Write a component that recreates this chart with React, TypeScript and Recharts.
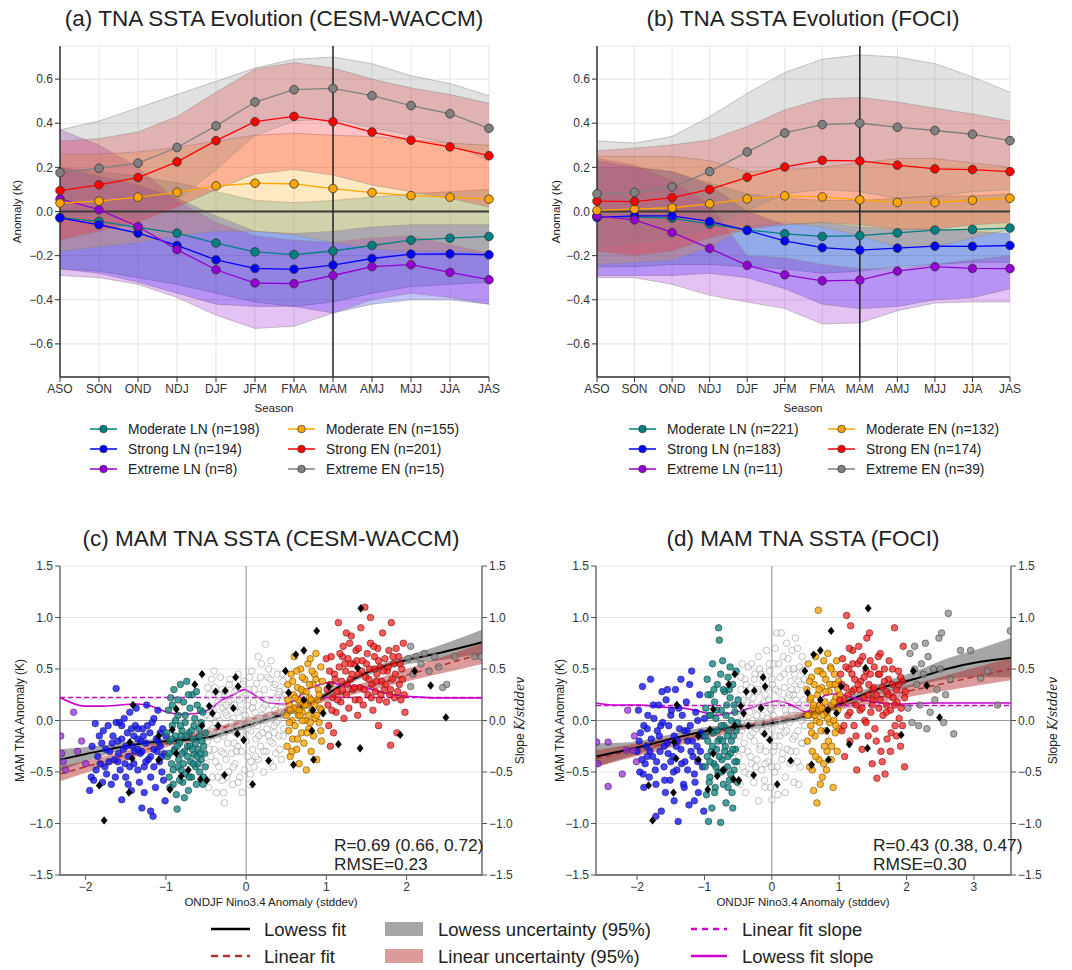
import React from "react";
import { ComposedChart, Line, Area, Scatter, XAxis, YAxis, CartesianGrid, ReferenceLine } from "recharts";

const FONT = "'Liberation Sans', Arial, Helvetica, sans-serif";

// ---------- Top panels: seasonal evolution ----------
const seasons = ["ASO", "SON", "OND", "NDJ", "DJF", "JFM", "FMA", "MAM", "AMJ", "MJJ", "JJA", "JAS"];
const yTicksTop = [-0.6, -0.4, -0.2, 0, 0.2, 0.4, 0.6];

const COL_MODLN = "#008080";
const COL_STRLN = "#0000ff";
const COL_EXTLN = "#9400d3";
const COL_MODEN = "#ffa500";
const COL_STREN = "#ff0000";
const COL_EXTEN = "#808080";

// (a) CESM-WACCM
const aModLN = [-0.027, -0.045, -0.072, -0.098, -0.143, -0.183, -0.195, -0.179, -0.154, -0.130, -0.121, -0.113];
const aModLNLo = [-0.26, -0.27, -0.30, -0.33, -0.37, -0.41, -0.43, -0.41, -0.37, -0.34, -0.33, -0.32];
const aModLNHi = [0.20, 0.18, 0.16, 0.13, 0.09, 0.05, 0.04, 0.05, 0.065, 0.08, 0.09, 0.10];
const aStrLN = [-0.029, -0.060, -0.098, -0.154, -0.219, -0.258, -0.262, -0.243, -0.213, -0.193, -0.192, -0.196];
const aStrLNLo = [-0.26, -0.28, -0.32, -0.37, -0.42, -0.43, -0.43, -0.46, -0.42, -0.40, -0.40, -0.42];
const aStrLNHi = [0.20, 0.16, 0.12, 0.06, -0.02, -0.09, -0.10, -0.09, -0.07, -0.06, -0.06, -0.06];
const aExtLN = [0.057, 0.008, -0.068, -0.173, -0.264, -0.324, -0.327, -0.290, -0.250, -0.241, -0.276, -0.309];
const aExtLNLo = [-0.29, -0.30, -0.33, -0.39, -0.47, -0.53, -0.52, -0.46, -0.40, -0.37, -0.39, -0.42];
const aExtLNHi = [0.37, 0.30, 0.20, 0.05, -0.05, -0.11, -0.13, -0.14, -0.12, -0.11, -0.15, -0.19];
const aModEN = [0.038, 0.047, 0.065, 0.087, 0.116, 0.128, 0.125, 0.104, 0.086, 0.072, 0.065, 0.056];
const aModENLo = [-0.18, -0.16, -0.14, -0.11, -0.09, -0.09, -0.105, -0.14, -0.17, -0.18, -0.18, -0.19];
const aModENHi = [0.26, 0.26, 0.27, 0.29, 0.32, 0.345, 0.355, 0.345, 0.34, 0.325, 0.31, 0.30];
const aStrEN = [0.095, 0.121, 0.154, 0.225, 0.321, 0.407, 0.431, 0.407, 0.360, 0.323, 0.293, 0.253];
const aStrENLo = [-0.13, -0.09, -0.05, 0.02, 0.10, 0.17, 0.19, 0.165, 0.12, 0.09, 0.06, 0.02];
const aStrENHi = [0.32, 0.33, 0.36, 0.43, 0.54, 0.645, 0.675, 0.65, 0.60, 0.56, 0.53, 0.49];
const aExtEN = [0.176, 0.196, 0.219, 0.290, 0.388, 0.496, 0.552, 0.558, 0.525, 0.480, 0.443, 0.377];
const aExtENLo = [-0.02, -0.02, -0.03, 0.05, 0.19, 0.345, 0.41, 0.42, 0.38, 0.345, 0.31, 0.23];
const aExtENHi = [0.37, 0.41, 0.47, 0.53, 0.59, 0.65, 0.69, 0.70, 0.67, 0.615, 0.58, 0.525];

// (b) FOCI
const bModLN = [-0.023, -0.024, -0.030, -0.057, -0.083, -0.101, -0.113, -0.109, -0.097, -0.084, -0.081, -0.075];
const bModLNLo = [-0.25, -0.25, -0.24, -0.24, -0.25, -0.26, -0.28, -0.27, -0.25, -0.24, -0.23, -0.23];
const bModLNHi = [0.20, 0.20, 0.18, 0.13, 0.08, 0.06, 0.05, 0.05, 0.06, 0.07, 0.07, 0.08];
const bStrLN = [-0.027, -0.020, -0.020, -0.045, -0.086, -0.133, -0.164, -0.175, -0.166, -0.157, -0.158, -0.154];
const bStrLNLo = [-0.29, -0.29, -0.29, -0.28, -0.30, -0.35, -0.42, -0.44, -0.43, -0.40, -0.39, -0.35];
const bStrLNHi = [0.23, 0.20, 0.18, 0.12, 0.0, -0.06, -0.05, -0.07, -0.08, -0.08, -0.09, -0.10];
const bExtLN = [-0.020, -0.038, -0.095, -0.167, -0.244, -0.287, -0.314, -0.311, -0.270, -0.250, -0.258, -0.259];
const bExtLNLo = [-0.30, -0.30, -0.33, -0.38, -0.41, -0.44, -0.51, -0.505, -0.45, -0.415, -0.41, -0.41];
const bExtLNHi = [0.24, 0.21, 0.14, 0.03, -0.20, -0.21, -0.24, -0.26, -0.26, -0.24, -0.22, -0.20];
const bModEN = [0.005, 0.011, 0.017, 0.035, 0.057, 0.071, 0.066, 0.053, 0.041, 0.041, 0.051, 0.060];
const bModENLo = [-0.24, -0.23, -0.22, -0.16, -0.07, -0.05, -0.07, -0.11, -0.16, -0.16, -0.12, -0.08];
const bModENHi = [0.25, 0.25, 0.25, 0.23, 0.18, 0.19, 0.20, 0.22, 0.24, 0.24, 0.22, 0.20];
const bStrEN = [0.047, 0.045, 0.063, 0.100, 0.155, 0.202, 0.232, 0.229, 0.210, 0.193, 0.190, 0.181];
const bStrENLo = [-0.18, -0.20, -0.18, -0.12, -0.08, -0.06, -0.05, -0.06, -0.08, -0.08, -0.06, -0.05];
const bStrENHi = [0.275, 0.287, 0.302, 0.324, 0.385, 0.46, 0.51, 0.517, 0.496, 0.468, 0.442, 0.41];
const bExtEN = [0.080, 0.087, 0.112, 0.181, 0.270, 0.356, 0.394, 0.400, 0.382, 0.367, 0.350, 0.321];
const bExtENLo = [-0.16, -0.14, -0.12, -0.07, 0.005, 0.08, 0.10, 0.09, 0.06, 0.07, 0.09, 0.10];
const bExtENHi = [0.32, 0.31, 0.34, 0.43, 0.535, 0.63, 0.69, 0.71, 0.70, 0.67, 0.61, 0.54];

const legendNamesA = ["Moderate LN (n=198)", "Strong LN (n=194)", "Extreme LN (n=8)", "Moderate EN (n=155)", "Strong EN (n=201)", "Extreme EN (n=15)"];
const legendNamesB = ["Moderate LN (n=221)", "Strong LN (n=183)", "Extreme LN (n=11)", "Moderate EN (n=132)", "Strong EN (n=174)", "Extreme EN (n=39)"];

type Ser = { color: string; mean: number[]; lo: number[]; hi: number[] };
const seriesA: Ser[] = [
  { color: COL_MODLN, mean: aModLN, lo: aModLNLo, hi: aModLNHi },
  { color: COL_STRLN, mean: aStrLN, lo: aStrLNLo, hi: aStrLNHi },
  { color: COL_EXTLN, mean: aExtLN, lo: aExtLNLo, hi: aExtLNHi },
  { color: COL_MODEN, mean: aModEN, lo: aModENLo, hi: aModENHi },
  { color: COL_STREN, mean: aStrEN, lo: aStrENLo, hi: aStrENHi },
  { color: COL_EXTEN, mean: aExtEN, lo: aExtENLo, hi: aExtENHi },
];
const seriesB: Ser[] = [
  { color: COL_MODLN, mean: bModLN, lo: bModLNLo, hi: bModLNHi },
  { color: COL_STRLN, mean: bStrLN, lo: bStrLNLo, hi: bStrLNHi },
  { color: COL_EXTLN, mean: bExtLN, lo: bExtLNLo, hi: bExtLNHi },
  { color: COL_MODEN, mean: bModEN, lo: bModENLo, hi: bModENHi },
  { color: COL_STREN, mean: bStrEN, lo: bStrENLo, hi: bStrENHi },
  { color: COL_EXTEN, mean: bExtEN, lo: bExtENLo, hi: bExtENHi },
];

// ---------- Bottom panels: scatter ----------
const yTicksBot = [-1.5, -1, -0.5, 0, 0.5, 1, 1.5];
const xTicksC = [-2, -1, 0, 1, 2];
const xTicksD = [-2, -1, 0, 1, 2, 3];

const obsDiamonds = [
  [-1.77, -0.97], [-1.83, -0.63], [-1.46, -0.70], [-1.45, -0.21], [-1.42, -0.37], [-1.41, 0.15], [-1.09, -0.15], [-1.09, -0.38],
  [-0.95, -0.67], [-0.92, -0.09], [-0.87, 0.11], [-0.87, -0.32], [-0.81, -0.54], [-0.72, -0.48], [-0.64, 0.35], [-0.55, 0.45],
  [-0.55, -0.05], [-0.57, -0.57], [-0.49, -0.58], [-0.46, 0.14], [-0.42, 0.07], [-0.38, 0.28], [-0.35, -0.05], [-0.27, -0.53],
  [-0.26, 0.29], [-0.16, 0.12], [-0.13, 0.42], [-0.11, -0.13], [-0.10, 0.33], [-0.03, -0.19], [0.08, -0.62], [0.28, -0.39],
  [0.49, 0.48], [0.53, 0.27], [0.59, -0.43], [0.62, 0.64], [0.72, 0.68], [0.72, 0.20], [0.83, 0.10], [0.82, -0.10], [0.84, -0.38],
  [0.88, 0.87], [0.96, 0.07], [1.03, 0.33], [1.15, -0.23], [1.39, 0.51], [1.42, -0.27], [1.43, 1.09], [1.92, -0.14], [2.10, 0.48],
  [2.30, 0.34], [2.49, 0.03],
];

// (c) CESM-WACCM
const cBlue = [
  [-1.95, -0.68], [-1.93, -0.55], [-1.90, -0.58], [-1.88, -0.03], [-1.85, -0.35], [-1.82, -0.42], [-1.80, -0.22], [-1.78, -0.10],
  [-1.76, -0.45], [-1.74, -0.52], [-1.72, -0.05], [-1.70, -0.30], [-1.68, -0.62], [-1.66, -0.15], [-1.64, -0.38], [-1.62, 0.31],
  [-1.60, -0.20], [-1.58, -0.02], [-1.57, -0.48], [-1.55, -0.77], [-1.53, -0.28], [-1.52, 0.02], [-1.50, -0.55], [-1.48, -0.12],
  [-1.47, -0.35], [-1.45, 0.08], [-1.43, -0.68], [-1.42, -0.25], [-1.40, -0.42], [-1.38, -0.05], [-1.37, 0.12], [-1.35, -0.18],
  [-1.33, -0.60], [-1.32, -0.32], [-1.30, -0.85], [-1.29, -0.08], [-1.27, -0.45], [-1.25, -0.22], [-1.24, 0.15], [-1.22, -0.38],
  [-1.20, -0.12], [-1.19, -0.55], [-1.17, -0.02], [-1.16, -0.93], [-1.15, -0.28], [-1.13, -0.65], [-1.12, -0.18], [-1.10, 0.10],
  [-1.08, -0.40], [-1.07, -0.25], [-1.05, -0.50], [-1.04, -0.08], [-1.02, -0.32], [-1.01, -0.78], [-1.00, -0.15], [-1.19, -0.88],
  [-1.62, -0.02], [-1.55, -0.05], [-1.35, -0.08], [-1.28, -0.15], [-1.40, -0.15], [-1.10, -0.20], [-1.30, -0.30],
  [-1.92, -0.25], [-1.87, -0.48], [-1.83, -0.15], [-1.79, -0.60], [-1.75, -0.28], [-1.71, -0.40], [-1.67, -0.22], [-1.63, -0.55],
  [-1.59, -0.32], [-1.55, -0.18], [-1.51, -0.42], [-1.47, -0.62], [-1.43, -0.08], [-1.39, -0.30], [-1.35, -0.48], [-1.31, -0.20],
  [-1.27, -0.70], [-1.23, -0.05], [-1.19, -0.35], [-1.15, -0.45], [-1.11, -0.30], [-1.07, -0.12], [-1.03, -0.58], [-1.50, -0.25],
  [-1.25, -0.40], [-1.45, -0.45], [-1.15, 0.02], [-1.60, -0.40], [-1.05, -0.35], [-1.35, -0.28],
];
const cTeal = [
  [-0.98, -0.35], [-0.97, 0.10], [-0.96, -0.55], [-0.95, -0.20], [-0.94, 0.22], [-0.93, -0.42], [-0.92, -0.05], [-0.91, -0.62],
  [-0.90, 0.30], [-0.89, -0.28], [-0.88, -0.15], [-0.87, -0.72], [-0.86, -0.86], [-0.85, 0.05], [-0.84, -0.38], [-0.83, -0.22],
  [-0.82, 0.35], [-0.81, -0.48], [-0.80, -0.10], [-0.79, -0.60], [-0.78, 0.18], [-0.77, -0.30], [-0.76, -0.02], [-0.75, -0.52],
  [-0.74, 0.38], [-0.73, -0.25], [-0.72, -0.68], [-0.71, -0.12], [-0.70, 0.12], [-0.69, -0.40], [-0.68, -0.55], [-0.67, 0.25],
  [-0.66, -0.18], [-0.65, -0.33], [-0.64, 0.02], [-0.63, -0.45], [-0.62, -0.62], [-0.61, 0.15], [-0.60, -0.28], [-0.59, -0.08],
  [-0.58, -0.50], [-0.57, 0.10], [-0.56, -0.38], [-0.55, -0.20], [-0.54, 0.08], [-0.53, -0.55], [-0.52, -0.32], [-0.51, -0.12],
  [-0.90, -0.30], [-0.80, -0.32], [-0.70, -0.25], [-0.60, -0.42], [-0.75, -0.15], [-0.65, -0.05], [-0.85, -0.45],
  [-0.99, -0.12], [-0.96, -0.32], [-0.93, -0.18], [-0.91, -0.48], [-0.88, 0.00], [-0.86, -0.25], [-0.83, -0.58], [-0.81, -0.15],
  [-0.78, -0.42], [-0.76, 0.05], [-0.73, -0.35], [-0.71, -0.55], [-0.68, -0.10], [-0.66, -0.42], [-0.63, -0.22], [-0.61, -0.35],
  [-0.58, -0.15], [-0.56, -0.02], [-0.53, -0.25], [-0.51, -0.45], [-0.95, -0.65], [-0.85, 0.20], [-0.77, -0.75], [-0.67, -0.28],
  [-0.57, -0.32], [-0.62, 0.28], [-0.72, 0.25], [-0.82, -0.05], [-0.92, 0.15], [-0.54, -0.62],
];
const cWhite = [
  [-0.50, -0.42], [-0.49, 0.05], [-0.48, -0.20], [-0.47, -0.65], [-0.46, 0.25], [-0.45, -0.10], [-0.44, -0.35], [-0.43, 0.40],
  [-0.42, -0.55], [-0.41, 0.10], [-0.40, -0.28], [-0.39, 0.32], [-0.38, -0.02], [-0.37, -0.70], [-0.36, -0.18], [-0.35, 0.18],
  [-0.34, -0.45], [-0.33, 0.00], [-0.32, 0.42], [-0.31, -0.30], [-0.30, -0.58], [-0.29, 0.12], [-0.28, -0.15], [-0.27, -0.80],
  [-0.26, 0.28], [-0.25, -0.38], [-0.24, 0.05], [-0.23, -0.22], [-0.22, -0.50], [-0.21, 0.35], [-0.20, -0.08], [-0.19, 0.20],
  [-0.18, -0.32], [-0.17, -0.62], [-0.16, 0.02], [-0.15, 0.15], [-0.14, -0.42], [-0.13, -0.12], [-0.12, 0.30], [-0.11, -0.25],
  [-0.10, 0.45], [-0.09, -0.05], [-0.08, -0.55], [-0.07, 0.10], [-0.06, -0.30], [-0.05, 0.22], [-0.04, -0.15], [-0.03, 0.38],
  [-0.02, -0.48], [-0.01, 0.05], [0.00, -0.20], [0.01, 0.15], [0.02, -0.35], [0.03, 0.30], [0.04, -0.62], [0.05, 0.00],
  [0.06, -0.10], [0.07, 0.48], [0.08, -0.28], [0.09, 0.18], [0.10, -0.45], [0.11, 0.08], [0.12, -0.18], [0.13, 0.36],
  [0.14, -0.05], [0.15, -0.38], [0.16, 0.25], [0.17, 0.02], [0.18, -0.25], [0.19, 0.55], [0.20, -0.12], [0.21, 0.12],
  [0.22, -0.50], [0.23, 0.30], [0.24, 0.00], [0.25, -0.30], [0.26, 0.20], [0.27, 0.42], [0.28, -0.15], [0.29, 0.05],
  [0.30, -0.40], [0.31, 0.58], [0.32, 0.15], [0.33, -0.22], [0.34, 0.32], [0.35, -0.05], [0.36, 0.10], [0.37, -0.32],
  [0.38, 0.22], [0.39, 0.45], [0.40, 0.00], [0.41, -0.15], [0.42, 0.28], [0.43, 0.08], [0.44, -0.38], [0.45, 0.18],
  [0.46, 0.38], [0.47, -0.08], [0.48, 0.05], [0.49, 0.25], [0.24, 0.74], [-0.28, -0.70], [-0.05, -0.70],
  [-0.48, 0.32], [-0.46, -0.28], [-0.44, 0.12], [-0.42, -0.08], [-0.40, 0.48], [-0.38, -0.40], [-0.36, 0.05], [-0.34, 0.25],
  [-0.32, -0.12], [-0.30, 0.30], [-0.28, -0.32], [-0.26, 0.08], [-0.24, -0.55], [-0.22, 0.18], [-0.20, 0.40], [-0.18, -0.02],
  [-0.16, -0.45], [-0.14, 0.28], [-0.12, -0.30], [-0.10, 0.08], [-0.08, 0.20], [-0.06, -0.12], [-0.04, 0.35], [-0.02, 0.00],
  [0.00, 0.25], [0.02, -0.08], [0.04, 0.42], [0.06, -0.40], [0.08, 0.12], [0.10, 0.30], [0.12, -0.35], [0.14, 0.02],
  [0.16, -0.15], [0.18, 0.42], [0.20, 0.05], [0.22, -0.30], [0.24, 0.15], [0.26, -0.08], [0.28, 0.50], [0.30, -0.20],
  [0.32, 0.02], [0.34, -0.45], [0.36, 0.35], [0.38, -0.02], [0.40, 0.25], [0.42, -0.28], [0.44, 0.12], [0.46, -0.15],
  [0.48, 0.30], [0.15, 0.62], [-0.10, -0.60], [0.05, -0.52], [-0.35, -0.55], [0.30, 0.40], [-0.45, 0.02], [0.10, -0.02],
  [-0.15, -0.22], [0.35, -0.12], [-0.25, 0.15], [0.45, 0.45],
];
const cOrange = [
  [0.50, 0.05], [0.51, -0.25], [0.52, 0.35], [0.53, -0.10], [0.54, 0.15], [0.55, -0.35], [0.56, 0.45], [0.57, 0.00],
  [0.58, -0.18], [0.59, 0.25], [0.60, 0.62], [0.61, -0.05], [0.62, 0.10], [0.63, -0.28], [0.64, 0.32], [0.65, 0.05],
  [0.66, -0.42], [0.67, 0.18], [0.68, 0.50], [0.69, -0.12], [0.70, 0.08], [0.71, 0.28], [0.72, -0.22], [0.73, 0.40],
  [0.74, 0.00], [0.75, -0.48], [0.76, 0.15], [0.77, 0.55], [0.78, -0.08], [0.79, 0.22], [0.80, 0.60], [0.81, -0.30],
  [0.82, 0.10], [0.83, 0.35], [0.84, -0.15], [0.85, 0.45], [0.86, 0.02], [0.87, 0.65], [0.88, -0.38], [0.89, 0.20],
  [0.90, 0.30], [0.91, -0.02], [0.92, 0.12], [0.93, 0.52], [0.94, -0.20], [0.95, 0.38], [0.60, 0.12], [0.70, 0.00],
  [0.80, -0.02], [0.65, 0.20],
  [0.52, 0.20], [0.55, 0.10], [0.58, 0.38], [0.61, 0.22], [0.64, -0.18], [0.67, 0.05], [0.70, 0.42], [0.73, 0.15],
  [0.76, -0.12], [0.79, 0.35], [0.82, 0.48], [0.85, 0.15], [0.88, 0.05], [0.91, 0.25], [0.94, 0.10], [0.57, -0.30],
  [0.63, 0.48], [0.69, 0.30], [0.75, 0.28], [0.81, 0.20], [0.87, 0.40], [0.93, -0.10], [0.54, -0.02], [0.66, 0.10], [0.78, 0.05],
];
const cRed = [
  [1.00, 0.60], [1.02, 0.15], [1.03, -0.05], [1.05, 0.35], [1.06, 0.62], [1.08, 0.22], [1.09, -0.12], [1.10, 0.45],
  [1.12, 0.08], [1.13, 0.28], [1.15, 0.95], [1.16, 0.52], [1.18, 0.18], [1.19, 0.38], [1.21, 0.72], [1.22, 0.02],
  [1.24, 0.48], [1.25, 0.25], [1.27, 0.60], [1.28, 0.12], [1.30, 0.40], [1.31, 0.82], [1.33, 0.30], [1.34, 0.55],
  [1.36, 0.20], [1.37, 0.68], [1.39, 0.05], [1.40, 0.45], [1.42, 0.32], [1.43, 0.90], [1.45, 0.58], [1.46, 0.15],
  [1.48, 1.10], [1.49, 0.42], [1.51, 0.65], [1.52, 0.25], [1.54, 0.50], [1.55, 0.75], [1.57, 0.35], [1.58, 0.10],
  [1.60, 0.62], [1.61, 0.28], [1.63, 0.45], [1.64, 0.70], [1.66, 0.20], [1.67, 0.52], [1.69, 0.38], [1.70, 0.85],
  [1.72, 0.30], [1.73, 0.60], [1.75, 0.18], [1.76, 0.48], [1.78, 0.68], [1.79, 0.25], [1.81, 0.95], [1.82, 0.40],
  [1.84, 0.55], [1.85, 0.22], [1.87, 0.70], [1.88, -0.12], [1.90, 0.62], [1.91, 0.35], [1.93, 0.20], [1.94, 0.50],
  [1.96, 0.75], [1.97, 0.25], [1.98, 0.08], [1.80, -0.24], [1.05, -0.25], [1.20, 0.62], [1.40, 0.70], [1.60, 0.50], [1.30, 0.55],
  [1.01, 0.30], [1.04, 0.48], [1.07, 0.10], [1.11, 0.40], [1.14, 0.20], [1.17, 0.65], [1.20, 0.30], [1.23, 0.55],
  [1.26, 0.35], [1.29, 0.75], [1.32, 0.45], [1.35, 0.32], [1.38, 0.58], [1.41, 0.20], [1.44, 0.48], [1.47, 0.30],
  [1.50, 0.55], [1.53, 0.40], [1.56, 0.22], [1.59, 0.72], [1.62, 0.38], [1.65, 0.58], [1.68, 0.25], [1.71, 0.48],
  [1.74, 0.35], [1.77, 0.52], [1.80, 0.30], [1.83, 0.62], [1.86, 0.45], [1.89, 0.28], [1.92, 0.55], [1.95, 0.40],
  [1.25, 0.85], [1.55, 1.00], [1.65, -0.05],
];
const cGray = [
  [2.02, 0.60], [2.05, 0.72], [2.08, 0.45], [2.12, 0.62], [2.18, 0.55], [2.22, 0.65], [2.28, 0.48], [2.35, 0.62],
  [2.40, 0.52], [2.45, 0.32], [2.50, 0.35], [2.60, 0.62], [2.85, 0.62], [2.93, 0.62], [2.05, 0.33],
];
const cPurple = [[-2.31, -0.15], [-2.30, -0.32], [-2.25, -0.48], [-2.15, 0.08], [-2.05, -0.20], [-2.00, -0.42], [-2.10, -0.30], [-2.28, -0.40]];

const cLowessX = [-2.32, -1.78, -1.28, -0.78, -0.45, -0.12, 0.21, 0.54, 0.88, 1.21, 1.55, 1.96, 2.38, 2.94];
const cLowessY = [-0.38, -0.29, -0.22, -0.19, -0.16, -0.08, 0.0, 0.08, 0.20, 0.35, 0.48, 0.58, 0.65, 0.76];
const cLowessLo = [-0.49, -0.34, -0.25, -0.22, -0.19, -0.11, -0.03, 0.05, 0.17, 0.32, 0.45, 0.54, 0.58, 0.65];
const cLowessHi = [-0.28, -0.24, -0.19, -0.16, -0.13, -0.05, 0.03, 0.11, 0.23, 0.38, 0.51, 0.62, 0.72, 0.88];
const cLinX = [-2.32, -1.5, -0.5, 0.5, 1.5, 2.94];
const cLinY = [-0.52, -0.338, -0.116, 0.106, 0.328, 0.648];
const cLinLo = [-0.59, -0.383, -0.141, 0.081, 0.283, 0.548];
const cLinHi = [-0.45, -0.293, -0.091, 0.131, 0.373, 0.748];
const cSlopeLin = 0.223;
const cSlopeX = [-2.32, -2.01, -1.78, -1.36, -1.19, -1.02, -0.81, -0.60, -0.45, -0.32, -0.16, -0.02, 0.12, 0.28, 0.48, 0.59, 0.76, 0.92, 1.04, 1.21, 1.42, 1.62, 1.83, 2.12, 2.33, 2.94];
const cSlopeY = [0.223, 0.14, 0.14, 0.16, 0.14, 0.09, 0.06, 0.07, 0.11, 0.19, 0.25, 0.30, 0.24, 0.17, 0.16, 0.19, 0.30, 0.35, 0.37, 0.34, 0.33, 0.29, 0.25, 0.23, 0.22, 0.22];

// (d) FOCI
const dBlue = [
  [-2.00, -0.30], [-1.98, 0.10], [-1.96, -0.50], [-1.95, -0.12], [-1.93, -0.38], [-1.92, 0.33], [-1.90, -0.05], [-1.88, -0.42],
  [-1.86, -0.25], [-1.84, 0.05], [-1.82, -0.55], [-1.80, 0.40], [-1.79, -0.18], [-1.77, -0.35], [-1.75, 0.02], [-1.73, -0.48],
  [-1.72, -0.62], [-1.70, -0.10], [-1.68, 0.15], [-1.66, -0.30], [-1.64, -0.88], [-1.62, -0.02], [-1.60, -0.45], [-1.58, -0.70],
  [-1.57, 0.20], [-1.55, -0.22], [-1.53, -0.05], [-1.51, -0.58], [-1.49, 0.10], [-1.47, -0.35], [-1.45, -0.15], [-1.43, 0.30],
  [-1.41, -0.48], [-1.39, -0.98], [-1.37, -0.08], [-1.35, -0.28], [-1.33, 0.05], [-1.31, -0.62], [-1.29, -0.40], [-1.27, 0.18],
  [-1.25, -0.20], [-1.23, -0.82], [-1.21, -0.05], [-1.19, 0.48], [-1.17, -0.35], [-1.15, -0.52], [-1.13, 0.08], [-1.11, -0.25],
  [-1.09, -0.70], [-1.07, 0.25], [-1.05, -0.12], [-1.03, -0.45], [-1.01, -0.88], [-1.00, 0.02], [-1.40, -0.20], [-1.20, -0.30],
  [-1.60, -0.25], [-1.30, -0.10], [-1.10, -0.40], [-1.50, -0.40], [-1.72, -0.93], [-1.90, -0.65],
  [-1.97, -0.20], [-1.91, -0.52], [-1.85, -0.08], [-1.81, -0.30], [-1.76, 0.15], [-1.71, -0.40], [-1.67, -0.15], [-1.63, 0.28],
  [-1.59, -0.58], [-1.54, -0.32], [-1.50, 0.05], [-1.46, -0.50], [-1.42, -0.25], [-1.38, 0.12], [-1.34, -0.42], [-1.30, -0.65],
  [-1.26, -0.10], [-1.22, 0.35], [-1.18, -0.20], [-1.14, -0.60], [-1.10, 0.00], [-1.06, -0.30], [-1.02, -0.15], [-1.45, -0.78],
  [-1.25, -0.48], [-1.65, -0.05], [-1.85, -0.35], [-1.15, -0.78], [-1.35, 0.40], [-1.55, 0.30],
];
const dTeal = [
  [-0.99, -0.45], [-0.98, 0.12], [-0.97, -0.72], [-0.96, 0.40], [-0.95, -0.20], [-0.94, -0.98], [-0.93, 0.05], [-0.92, -0.55],
  [-0.91, 0.25], [-0.90, -0.30], [-0.89, -0.85], [-0.88, 0.55], [-0.87, -0.12], [-0.86, -0.42], [-0.85, 0.18], [-0.84, -0.65],
  [-0.83, 0.02], [-0.82, -0.28], [-0.81, 0.35], [-0.80, -0.50], [-0.79, 0.90], [-0.78, 0.78], [-0.77, -0.18], [-0.76, -0.99],
  [-0.75, 0.10], [-0.74, -0.38], [-0.73, 0.58], [-0.72, -0.62], [-0.71, -0.05], [-0.70, 0.28], [-0.69, -0.25], [-0.68, -0.80],
  [-0.67, 0.15], [-0.66, -0.45], [-0.65, 0.42], [-0.64, -0.10], [-0.63, -0.58], [-0.62, 0.22], [-0.61, -0.32], [-0.60, 0.00],
  [-0.59, -0.70], [-0.58, 0.35], [-0.57, -0.15], [-0.56, -0.48], [-0.55, 0.08], [-0.54, -0.28], [-0.53, 0.48], [-0.52, -0.40],
  [-0.51, -0.02], [-0.50, 0.20], [-0.80, -0.20], [-0.70, -0.30], [-0.60, -0.20], [-0.90, -0.10], [-0.65, -0.35], [-0.75, -0.50],
  [-0.99, -0.15], [-0.96, -0.35], [-0.93, -0.60], [-0.91, 0.05], [-0.88, -0.25], [-0.86, 0.30], [-0.83, -0.45], [-0.81, -0.10],
  [-0.78, -0.35], [-0.76, 0.45], [-0.73, -0.20], [-0.71, -0.48], [-0.68, 0.05], [-0.66, -0.15], [-0.63, 0.30], [-0.61, -0.52],
  [-0.58, -0.28], [-0.56, 0.15], [-0.53, -0.10], [-0.51, -0.60], [-0.95, 0.25], [-0.85, -0.70], [-0.75, -0.05], [-0.65, -0.65],
  [-0.55, -0.40], [-0.62, 0.52], [-0.72, 0.30], [-0.82, 0.10], [-0.92, -0.40], [-0.58, -0.85],
];
const dWhite = [
  [-0.49, -0.35], [-0.48, 0.12], [-0.47, -0.62], [-0.46, 0.30], [-0.45, -0.10], [-0.44, 0.55], [-0.43, -0.45], [-0.42, 0.02],
  [-0.41, -0.22], [-0.40, 0.40], [-0.39, -0.70], [-0.38, -0.05], [-0.37, 0.18], [-0.36, -0.30], [-0.35, 0.52], [-0.34, -0.52],
  [-0.33, 0.08], [-0.32, -0.15], [-0.31, 0.32], [-0.30, -0.42], [-0.29, 0.00], [-0.28, 0.22], [-0.27, -0.60], [-0.26, -0.20],
  [-0.25, 0.45], [-0.24, -0.08], [-0.23, 0.12], [-0.22, -0.38], [-0.21, 0.28], [-0.20, -0.78], [-0.19, -0.02], [-0.18, 0.50],
  [-0.17, -0.25], [-0.16, 0.15], [-0.15, -0.48], [-0.14, 0.05], [-0.13, 0.38], [-0.12, -0.12], [-0.11, -0.58], [-0.10, 0.25],
  [-0.09, -0.30], [-0.08, 0.68], [-0.07, 0.02], [-0.06, -0.40], [-0.05, 0.20], [-0.04, -0.18], [-0.03, 0.48], [-0.02, -0.65],
  [-0.01, 0.10], [0.00, -0.08], [0.01, 0.35], [0.02, -0.30], [0.03, 0.55], [0.04, -0.50], [0.05, 0.15], [0.06, -0.15],
  [0.07, 0.85], [0.08, 0.00], [0.09, -0.72], [0.10, 0.28], [0.11, -0.25], [0.12, 0.42], [0.13, -0.05], [0.14, 0.85],
  [0.15, -0.38], [0.16, 0.18], [0.17, 0.62], [0.18, -0.12], [0.19, 0.32], [0.20, -0.55], [0.21, 0.05], [0.22, 0.75],
  [0.23, -0.28], [0.24, 0.22], [0.25, 0.50], [0.26, -0.02], [0.27, -0.42], [0.28, 0.38], [0.29, 0.10], [0.30, 0.68],
  [0.31, -0.18], [0.32, 0.25], [0.33, -0.60], [0.34, 0.45], [0.35, 0.05], [0.36, -0.30], [0.37, 0.30], [0.38, 0.70],
  [0.39, -0.10], [0.40, 0.15], [0.41, 0.52], [0.42, -0.45], [0.43, 0.35], [0.44, 0.00], [0.45, 0.62], [0.46, -0.22],
  [0.47, 0.20], [0.48, 0.40], [0.49, -0.05], [-0.20, 0.62], [0.00, -0.77],
  [-0.48, -0.15], [-0.46, 0.42], [-0.44, -0.28], [-0.42, 0.20], [-0.40, -0.50], [-0.38, 0.35], [-0.36, -0.02], [-0.34, 0.25],
  [-0.32, -0.35], [-0.30, 0.15], [-0.28, -0.12], [-0.26, 0.40], [-0.24, -0.45], [-0.22, 0.05], [-0.20, 0.30], [-0.18, -0.28],
  [-0.16, 0.45], [-0.14, -0.10], [-0.12, 0.18], [-0.10, -0.42], [-0.08, 0.32], [-0.06, -0.05], [-0.04, 0.55], [-0.02, 0.12],
  [0.00, 0.40], [0.02, 0.05], [0.04, -0.25], [0.06, 0.30], [0.08, -0.45], [0.10, 0.55], [0.12, -0.15], [0.14, 0.20],
  [0.16, -0.32], [0.18, 0.45], [0.20, 0.10], [0.22, -0.10], [0.24, 0.60], [0.26, 0.25], [0.28, -0.30], [0.30, 0.05],
  [0.32, 0.50], [0.34, -0.15], [0.36, 0.20], [0.38, -0.40], [0.40, 0.38], [0.42, 0.10], [0.44, -0.22], [0.46, 0.48],
  [0.48, 0.15], [0.05, 0.70], [-0.30, 0.55], [0.20, -0.70], [-0.10, -0.65], [0.35, 0.80], [0.40, -0.62], [-0.45, 0.05],
  [0.15, 0.00], [-0.20, -0.05], [0.30, 0.30], [0.00, -0.45],
];
const dOrange = [
  [0.52, 0.30], [0.53, -0.20], [0.54, 0.55], [0.55, 0.05], [0.56, -0.45], [0.57, 0.20], [0.58, -0.05], [0.59, 0.42],
  [0.60, -0.30], [0.61, 0.12], [0.62, -0.68], [0.63, 0.35], [0.64, -0.15], [0.65, 0.62], [0.66, 0.00], [0.67, -0.80],
  [0.68, 0.25], [0.69, 1.07], [0.70, -0.38], [0.71, 0.15], [0.72, 0.48], [0.73, -0.10], [0.74, 0.32], [0.75, -0.55],
  [0.76, 0.05], [0.77, 0.58], [0.78, -0.25], [0.79, 0.18], [0.80, 0.40], [0.81, -0.48], [0.82, 0.08], [0.83, 0.65],
  [0.84, -0.20], [0.85, 0.28], [0.86, -0.02], [0.87, 0.52], [0.88, -0.38], [0.89, 0.15], [0.90, 0.35], [0.91, -0.65],
  [0.92, 0.00], [0.93, 0.45], [0.94, -0.12], [0.95, 0.22], [0.96, 0.58], [0.97, -0.30], [0.98, 0.10], [0.99, 0.38],
  [1.00, -0.08], [1.01, 0.25], [0.70, 0.10], [0.80, -0.10],
  [0.53, 0.05], [0.56, 0.38], [0.59, -0.12], [0.62, 0.15], [0.65, -0.35], [0.68, 0.48], [0.71, -0.02], [0.74, 0.12],
  [0.77, -0.42], [0.80, 0.28], [0.83, 0.02], [0.86, 0.35], [0.89, -0.25], [0.92, 0.18], [0.95, -0.05], [0.98, 0.30],
  [0.58, 0.22], [0.64, 0.05], [0.70, 0.30], [0.76, 0.45], [0.82, -0.30], [0.88, 0.50], [0.94, 0.35], [0.60, -0.48], [0.72, -0.62],
];
const dRed = [
  [1.02, 0.45], [1.04, -0.10], [1.05, 0.60], [1.07, 0.20], [1.08, -0.35], [1.10, 0.32], [1.11, 1.02], [1.13, 0.05],
  [1.14, 0.50], [1.16, -0.20], [1.17, 0.92], [1.19, 0.28], [1.20, 0.68], [1.22, -0.05], [1.23, 0.40], [1.25, 0.15],
  [1.26, -0.48], [1.28, 0.55], [1.29, 0.72], [1.31, 0.10], [1.32, 0.38], [1.34, -0.28], [1.35, 0.62], [1.37, 0.22],
  [1.38, 0.00], [1.40, 0.48], [1.41, 0.80], [1.43, -0.15], [1.44, 0.35], [1.46, 0.58], [1.47, 0.08], [1.49, -0.42],
  [1.50, 0.30], [1.52, 0.52], [1.53, -0.08], [1.55, 0.25], [1.56, -0.56], [1.58, 0.45], [1.59, 0.12], [1.61, 0.65],
  [1.62, -0.30], [1.64, 0.32], [1.65, 0.05], [1.67, 0.50], [1.68, -0.52], [1.70, 0.28], [1.71, -0.18], [1.73, 0.40],
  [1.74, 0.58], [1.76, 0.10], [1.77, -0.12], [1.79, 0.35], [1.80, 0.22], [1.82, 0.90], [1.83, -0.05], [1.85, 0.30],
  [1.86, 0.18], [1.88, 0.48], [1.89, 0.02], [1.91, -0.25], [1.92, 0.12], [1.94, 0.38], [1.95, 0.72], [1.97, -0.45],
  [1.98, 0.28], [1.30, 0.30], [1.50, 0.20], [1.70, 0.15], [1.20, 0.55], [1.60, 0.45],
  [1.01, 0.20], [1.04, 0.35], [1.07, -0.05], [1.10, 0.52], [1.13, 0.25], [1.16, 0.08], [1.19, 0.45], [1.22, 0.30],
  [1.25, -0.15], [1.28, 0.35], [1.31, 0.58], [1.34, 0.12], [1.37, 0.42], [1.40, -0.02], [1.43, 0.25], [1.46, 0.45],
  [1.49, 0.15], [1.52, 0.32], [1.55, -0.20], [1.58, 0.62], [1.61, 0.20], [1.64, -0.40], [1.67, 0.38], [1.70, 0.08],
  [1.73, 0.25], [1.76, -0.30], [1.79, 0.50], [1.82, 0.15], [1.85, -0.15], [1.88, 0.35], [1.91, 0.42], [1.94, -0.05],
  [1.97, 0.22], [1.15, 0.70], [1.45, 0.85],
];
const dGray = [
  [2.02, 0.12], [2.05, 0.65], [2.08, -0.02], [2.12, 0.72], [2.15, 0.35], [2.18, -0.05], [2.22, 0.55], [2.25, 0.45],
  [2.28, 0.75], [2.32, 0.62], [2.35, 0.08], [2.40, 0.50], [2.45, 0.30], [2.48, 0.80], [2.52, 0.85], [2.55, -0.02],
  [2.58, 0.25], [2.62, 1.04], [2.70, -0.13], [2.80, 0.68], [2.95, 0.68], [3.10, 0.41], [3.20, 0.48], [3.35, 0.15],
  [3.54, 0.87], [2.30, -0.08], [2.20, 0.15], [2.42, 0.20], [2.50, 0.50], [2.12, 0.50], [2.65, 0.40],
];
const dPurple = [[-2.60, -0.21], [-2.43, -0.21], [-2.14, 0.10], [-2.04, -0.15], [-2.16, -0.29], [-2.01, -0.40], [-2.43, -0.64], [-2.22, -0.52], [-2.58, -0.42], [-2.06, -0.29]];

const dLowessX = [-2.61, -2.11, -1.62, -1.12, -0.63, -0.13, 0.21, 0.56, 0.86, 1.16, 1.60, 2.10, 2.59, 3.09, 3.55];
const dLowessY = [-0.35, -0.28, -0.20, -0.12, -0.07, -0.04, 0.0, 0.05, 0.12, 0.20, 0.31, 0.40, 0.50, 0.57, 0.61];
const dLowessLo = [-0.45, -0.35, -0.25, -0.16, -0.10, -0.07, -0.03, 0.02, 0.09, 0.16, 0.26, 0.33, 0.40, 0.42, 0.42];
const dLowessHi = [-0.22, -0.21, -0.15, -0.08, -0.04, -0.01, 0.03, 0.08, 0.15, 0.24, 0.36, 0.47, 0.60, 0.70, 0.80];
const dLinX = [-2.61, -1.5, -0.5, 0.5, 1.5, 2.5, 3.55];
const dLinY = [-0.37, -0.212, -0.071, 0.070, 0.211, 0.352, 0.500];
const dLinLo = [-0.45, -0.262, -0.101, 0.040, 0.166, 0.282, 0.390];
const dLinHi = [-0.29, -0.162, -0.041, 0.100, 0.256, 0.422, 0.610];
const dSlopeLin = 0.145;
const dSlopeX = [-2.61, -2.33, -1.98, -1.62, -1.32, -1.02, -0.85, -0.63, -0.38, -0.13, 0.07, 0.26, 0.41, 0.51, 0.66, 0.78, 0.96, 1.16, 1.36, 1.60, 1.85, 2.35, 3.55];
const dSlopeY = [0.17, 0.15, 0.15, 0.13, 0.12, 0.08, 0.05, 0.07, 0.11, 0.16, 0.19, 0.16, 0.11, 0.08, 0.15, 0.24, 0.26, 0.23, 0.20, 0.17, 0.16, 0.17, 0.17];

// ---------- helpers ----------
const fmt1 = (v: number) => (v < 0 ? "\u2212" : "") + Math.abs(v).toFixed(1);
const fmt0 = (v: number) => (v < 0 ? "\u2212" : "") + Math.abs(v).toFixed(0);
const pts = (arr: number[][]) => arr.map((p) => ({ x: p[0], y: p[1] }));
const lineData = (xs: number[], ys: number[]) => xs.map((x, i) => ({ x, y: ys[i] }));
const bandData = (xs: number[], lo: number[], hi: number[]) => xs.map((x, i) => ({ x, r: [lo[i], hi[i]] }));

const tickStyle = { fontSize: 12, fill: "#333", fontFamily: FONT };

function EvoChart({ left, width, plotLeft, plotRight, series }: { left: number; width: number; plotLeft: number; plotRight: number; series: Ser[] }) {
  const data = seasons.map((s, i) => {
    const row: any = { x: i };
    series.forEach((sr, k) => {
      row["m" + k] = sr.mean[i];
      row["b" + k] = [sr.lo[i], sr.hi[i]];
    });
    return row;
  });
  const idx = seasons.map((_, i) => i);
  const frame = { stroke: "#333", strokeWidth: 1.5 };
  return (
    <div style={{ position: "absolute", left, top: 0 }}>
      <ComposedChart width={width} height={420} data={data} margin={{ top: 46, right: left + width - plotRight, bottom: 13, left: 0 }}>
        <CartesianGrid stroke="#e4e4e4" strokeWidth={1} />
        <XAxis dataKey="x" type="number" domain={[0, 11]} ticks={idx} interval={0} tickFormatter={(i: number) => seasons[i]} height={30} tickSize={5} axisLine={frame} tickLine={{ stroke: "#333" }} tick={tickStyle} />
        <XAxis xAxisId="top" orientation="top" dataKey="x" type="number" domain={[0, 11]} ticks={idx} interval={0} height={0} tick={false} tickSize={5} axisLine={frame} tickLine={{ stroke: "#333" }} />
        <YAxis type="number" domain={[-0.75, 0.75]} ticks={yTicksTop} interval={0} tickFormatter={fmt1} width={plotLeft - left} tickSize={5} axisLine={frame} tickLine={{ stroke: "#333" }} tick={tickStyle} />
        <YAxis yAxisId="r" orientation="right" type="number" domain={[-0.75, 0.75]} ticks={yTicksTop} interval={0} width={0} tick={false} tickSize={5} axisLine={frame} tickLine={{ stroke: "#333" }} />
        {series.map((sr, k) => (
          <Area key={"a" + k} dataKey={"b" + k} type="linear" fill={sr.color} fillOpacity={0.24} stroke="#888" strokeOpacity={0.45} strokeWidth={1} dot={false} activeDot={false} isAnimationActive={false} />
        ))}
        <ReferenceLine y={0} stroke="#3a3a3a" strokeWidth={1.8} />
        <ReferenceLine x={7} stroke="#222" strokeWidth={1.5} />
        {series.map((sr, k) => (
          <Line key={"l" + k} dataKey={"m" + k} type="linear" stroke={sr.color} strokeWidth={1.3} dot={{ r: 4.3, fill: sr.color, stroke: "#333", strokeWidth: 0.8 }} activeDot={false} isAnimationActive={false} />
        ))}
      </ComposedChart>
    </div>
  );
}

const circleShape = (fill: string, stroke: string, op: number) => (p: any) =>
  p.cx == null ? <g /> : <circle cx={p.cx} cy={p.cy} r={3.3} fill={fill} fillOpacity={op} stroke={stroke} strokeWidth={0.6} />;
const diamondShape = (p: any) =>
  p.cx == null ? <g /> : <polygon points={`${p.cx},${p.cy - 4.2} ${p.cx + 3.4},${p.cy} ${p.cx},${p.cy + 4.2} ${p.cx - 3.4},${p.cy}`} fill="#000" />;

type ScatterProps = {
  left: number; width: number; plotRight: number; xDomain: number[]; xTicks: number[];
  white: number[][]; blue: number[][]; teal: number[][]; orange: number[][]; red: number[][]; gray: number[][]; purple: number[][];
  lowX: number[]; lowY: number[]; lowLo: number[]; lowHi: number[];
  linX: number[]; linY: number[]; linLo: number[]; linHi: number[];
  slopeLin: number; slopeX: number[]; slopeY: number[];
};

function ScatterChartPanel(pr: ScatterProps) {
  const frame = { stroke: "#555", strokeWidth: 1.3 };
  const plotLeftW = 60;
  const rightW = 40;
  const slopeLinData = [{ x: pr.xDomain[0], y: pr.slopeLin }, { x: pr.xDomain[1], y: pr.slopeLin }];
  return (
    <div style={{ position: "absolute", left: pr.left, top: 520 }}>
      <ComposedChart width={pr.width} height={400} margin={{ top: 46, right: pr.left + pr.width - pr.plotRight - rightW, bottom: 20, left: 0 }}>
        <CartesianGrid vertical={false} stroke="#e6e6e6" strokeWidth={1} />
        <XAxis dataKey="x" type="number" domain={pr.xDomain} allowDataOverflow ticks={pr.xTicks} interval={0} tickFormatter={fmt0} height={25} tickSize={5} axisLine={frame} tickLine={{ stroke: "#555" }} tick={tickStyle} />
        <XAxis xAxisId="top" orientation="top" dataKey="x" type="number" domain={pr.xDomain} allowDataOverflow ticks={pr.xTicks} interval={0} height={0} tick={false} tickSize={5} axisLine={frame} tickLine={{ stroke: "#555" }} />
        <YAxis dataKey="y" type="number" domain={[-1.5, 1.5]} allowDataOverflow ticks={yTicksBot} interval={0} tickFormatter={fmt1} width={plotLeftW} tickSize={5} axisLine={frame} tickLine={{ stroke: "#555" }} tick={tickStyle} />
        <YAxis yAxisId="r" orientation="right" type="number" domain={[-1.5, 1.5]} allowDataOverflow ticks={yTicksBot} interval={0} tickFormatter={fmt1} width={rightW} tickSize={5} axisLine={frame} tickLine={{ stroke: "#555" }} tick={tickStyle} />
        <ReferenceLine y={0} stroke="#9a9a9a" strokeWidth={1.2} />
        <ReferenceLine x={0} stroke="#8a8a8a" strokeWidth={1} />
        <Scatter data={pts(pr.white)} shape={circleShape("#ffffff", "#9a9a9a", 0.25)} isAnimationActive={false} />
        <Scatter data={pts(pr.blue)} shape={circleShape("#1010ff", "#222266", 0.78)} isAnimationActive={false} />
        <Scatter data={pts(pr.teal)} shape={circleShape("#148a86", "#1d3b3a", 0.8)} isAnimationActive={false} />
        <Scatter data={pts(pr.orange)} shape={circleShape("#ffa500", "#6b4a00", 0.78)} isAnimationActive={false} />
        <Scatter data={pts(pr.red)} shape={circleShape("#ff1a1a", "#661010", 0.72)} isAnimationActive={false} />
        <Scatter data={pts(pr.gray)} shape={circleShape("#8c8c8c", "#444", 0.75)} isAnimationActive={false} />
        <Scatter data={pts(pr.purple)} shape={circleShape("#9a30d8", "#442266", 0.75)} isAnimationActive={false} />
        <Scatter data={pts(obsDiamonds)} shape={diamondShape} isAnimationActive={false} />
        <Area data={bandData(pr.lowX, pr.lowLo, pr.lowHi)} dataKey="r" type="monotone" fill="#808080" fillOpacity={0.7} stroke="none" dot={false} activeDot={false} isAnimationActive={false} />
        <Area data={bandData(pr.linX, pr.linLo, pr.linHi)} dataKey="r" type="monotone" fill="#b22222" fillOpacity={0.45} stroke="none" dot={false} activeDot={false} isAnimationActive={false} />
        <Line data={lineData(pr.linX, pr.linY)} dataKey="y" type="linear" stroke="#b03030" strokeWidth={1.5} strokeDasharray="6 4" dot={false} activeDot={false} isAnimationActive={false} />
        <Line data={lineData(pr.lowX, pr.lowY)} dataKey="y" type="monotone" stroke="#000" strokeWidth={2} dot={false} activeDot={false} isAnimationActive={false} />
        <Line yAxisId="r" data={slopeLinData} dataKey="y" type="linear" stroke="#cc00cc" strokeWidth={1.5} strokeDasharray="5 3" dot={false} activeDot={false} isAnimationActive={false} />
        <Line yAxisId="r" data={lineData(pr.slopeX, pr.slopeY)} dataKey="y" type="monotone" stroke="#cc00cc" strokeWidth={1.6} dot={false} activeDot={false} isAnimationActive={false} />
      </ComposedChart>
    </div>
  );
}

function EvoLegend({ x1, x2, names }: { x1: number; x2: number; names: string[] }) {
  const cols = [COL_MODLN, COL_STRLN, COL_EXTLN, COL_MODEN, COL_STREN, COL_EXTEN];
  const rows = [429, 449, 469];
  return (
    <g>
      {names.map((n, i) => {
        const x = i < 3 ? x1 : x2;
        const y = rows[i % 3];
        return (
          <g key={n}>
            <line x1={x} x2={x + 27} y1={y} y2={y} stroke={cols[i]} strokeWidth={1.5} />
            <circle cx={x + 13.5} cy={y} r={3.8} fill={cols[i]} stroke="#333" strokeWidth={0.7} />
            <text x={x + 38} y={y} dominantBaseline="central" fontSize={13.8} fill="#222" fontFamily={FONT}>{n}</text>
          </g>
        );
      })}
    </g>
  );
}

export default function App() {
  const txt = { fontFamily: FONT, fill: "#222" } as const;
  return (
    <div style={{ position: "absolute", left: 0, top: 0, width: 1072, height: 970, background: "#fff", overflow: "hidden" }}>
      <EvoChart left={0} width={530} plotLeft={60} plotRight={489} series={seriesA} />
      <EvoChart left={530} width={542} plotLeft={597} plotRight={1010} series={seriesB} />
      <ScatterChartPanel left={0} width={536} plotRight={482} xDomain={[-2.32, 2.94]} xTicks={xTicksC}
        white={cWhite} blue={cBlue} teal={cTeal} orange={cOrange} red={cRed} gray={cGray} purple={cPurple}
        lowX={cLowessX} lowY={cLowessY} lowLo={cLowessLo} lowHi={cLowessHi}
        linX={cLinX} linY={cLinY} linLo={cLinLo} linHi={cLinHi}
        slopeLin={cSlopeLin} slopeX={cSlopeX} slopeY={cSlopeY} />
      <ScatterChartPanel left={536} width={536} plotRight={1011} xDomain={[-2.61, 3.55]} xTicks={xTicksD}
        white={dWhite} blue={dBlue} teal={dTeal} orange={dOrange} red={dRed} gray={dGray} purple={dPurple}
        lowX={dLowessX} lowY={dLowessY} lowLo={dLowessLo} lowHi={dLowessHi}
        linX={dLinX} linY={dLinY} linLo={dLinLo} linHi={dLinHi}
        slopeLin={dSlopeLin} slopeX={dSlopeX} slopeY={dSlopeY} />
      <svg width={1072} height={970} style={{ position: "absolute", left: 0, top: 0, pointerEvents: "none" }}>
        <text x={274} y={18} textAnchor="middle" dominantBaseline="central" fontSize={22.5} {...txt}>(a) TNA SSTA Evolution (CESM-WACCM)</text>
        <text x={803} y={18} textAnchor="middle" dominantBaseline="central" fontSize={22.5} {...txt}>(b) TNA SSTA Evolution (FOCI)</text>
        <text x={271} y={538} textAnchor="middle" dominantBaseline="central" fontSize={22.5} {...txt}>(c) MAM TNA SSTA (CESM-WACCM)</text>
        <text x={803} y={538} textAnchor="middle" dominantBaseline="central" fontSize={22.5} {...txt}>(d) MAM TNA SSTA (FOCI)</text>

        <text x={274} y={408} textAnchor="middle" dominantBaseline="central" fontSize={11.5} {...txt}>Season</text>
        <text x={803} y={408} textAnchor="middle" dominantBaseline="central" fontSize={11.5} {...txt}>Season</text>
        <text transform="translate(17,211.5) rotate(-90)" textAnchor="middle" dominantBaseline="central" fontSize={11.5} {...txt}>Anomaly (K)</text>
        <text transform="translate(556,211.5) rotate(-90)" textAnchor="middle" dominantBaseline="central" fontSize={11.5} {...txt}>Anomaly (K)</text>

        <EvoLegend x1={90} x2={288} names={legendNamesA} />
        <EvoLegend x1={629} x2={828} names={legendNamesB} />

        <text transform="translate(20,720.5) rotate(-90)" textAnchor="middle" dominantBaseline="central" fontSize={12} {...txt}>MAM TNA Anomaly (K)</text>
        <text transform="translate(560,720.5) rotate(-90)" textAnchor="middle" dominantBaseline="central" fontSize={12} {...txt}>MAM TNA Anomaly (K)</text>
        <text transform="translate(520,720.5) rotate(-90)" textAnchor="middle" dominantBaseline="central" fontSize={12} {...txt}>
          Slope <tspan fontFamily="'DejaVu Serif', serif" fontStyle="italic">K/stddev</tspan>
        </text>
        <text transform="translate(1053,720.5) rotate(-90)" textAnchor="middle" dominantBaseline="central" fontSize={12} {...txt}>
          Slope <tspan fontFamily="'DejaVu Serif', serif" fontStyle="italic">K/stddev</tspan>
        </text>
        <text x={271} y={902} textAnchor="middle" dominantBaseline="central" fontSize={11.5} {...txt}>ONDJF Nino3.4 Anomaly (stddev)</text>
        <text x={803} y={902} textAnchor="middle" dominantBaseline="central" fontSize={11.5} {...txt}>ONDJF Nino3.4 Anomaly (stddev)</text>

        <text x={334} y={845} dominantBaseline="central" fontSize={17.3} {...txt}>R=0.69 (0.66, 0.72)</text>
        <text x={334} y={864} dominantBaseline="central" fontSize={17.3} {...txt}>RMSE=0.23</text>
        <text x={873} y={845} dominantBaseline="central" fontSize={17.3} {...txt}>R=0.43 (0.38, 0.47)</text>
        <text x={873} y={864} dominantBaseline="central" fontSize={17.3} {...txt}>RMSE=0.30</text>

        {/* bottom legend */}
        <line x1={211} x2={250} y1={929} y2={929} stroke="#000" strokeWidth={2.5} />
        <text x={264} y={929} dominantBaseline="central" fontSize={18.5} {...txt}>Lowess fit</text>
        <line x1={211} x2={250} y1={956} y2={956} stroke="#b03030" strokeWidth={2.5} strokeDasharray="7 5" />
        <text x={264} y={956} dominantBaseline="central" fontSize={18.5} {...txt}>Linear fit</text>
        <rect x={385} y={922} width={38} height={14} fill="#808080" fillOpacity={0.7} />
        <text x={438} y={929} dominantBaseline="central" fontSize={18.5} {...txt}>Lowess uncertainty (95%)</text>
        <rect x={385} y={949} width={38} height={14} fill="#b22222" fillOpacity={0.45} />
        <text x={438} y={956} dominantBaseline="central" fontSize={18.5} {...txt}>Linear uncertainty (95%)</text>
        <line x1={691} x2={727} y1={929} y2={929} stroke="#cc00cc" strokeWidth={2.5} strokeDasharray="6 5" />
        <text x={742} y={929} dominantBaseline="central" fontSize={18.5} {...txt}>Linear fit slope</text>
        <line x1={691} x2={727} y1={956} y2={956} stroke="#cc00cc" strokeWidth={2.5} />
        <text x={742} y={956} dominantBaseline="central" fontSize={18.5} {...txt}>Lowess fit slope</text>
      </svg>
    </div>
  );
}
